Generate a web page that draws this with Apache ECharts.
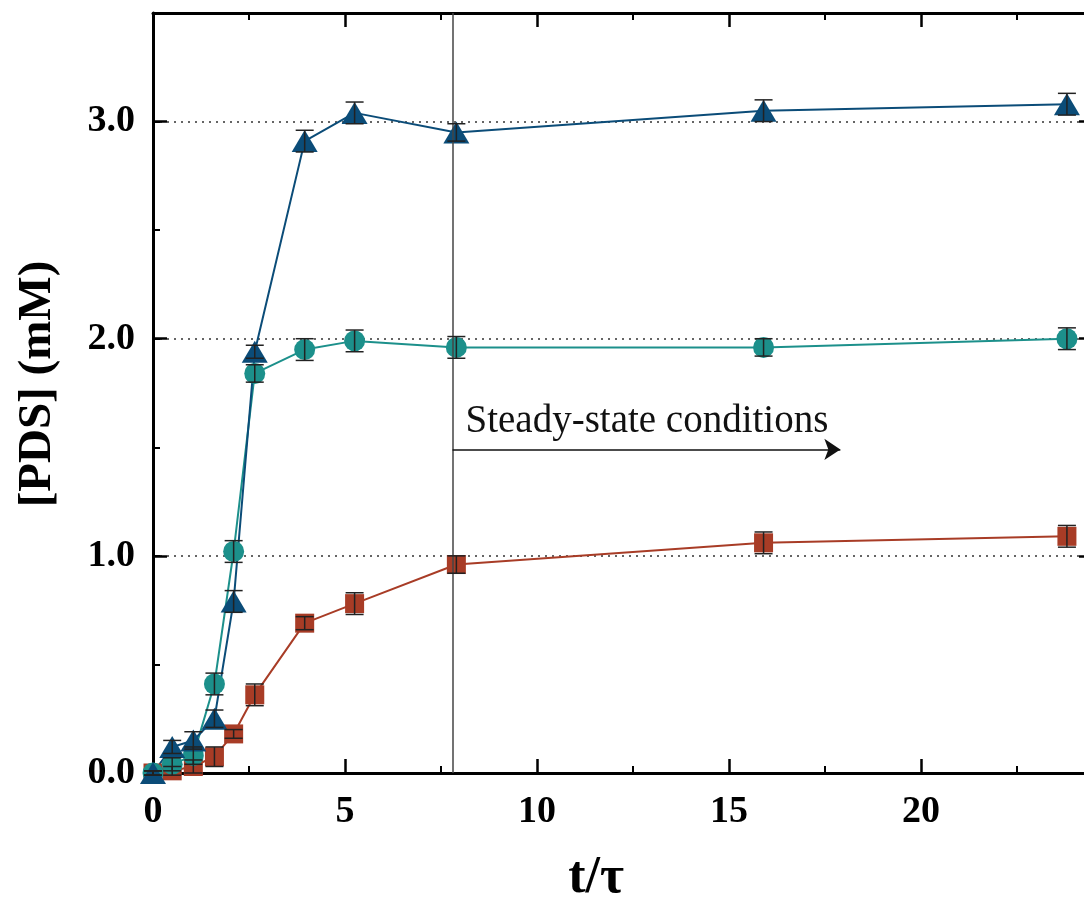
<!DOCTYPE html>
<html>
<head>
<meta charset="utf-8">
<script src="https://cdn.jsdelivr.net/npm/echarts@6/dist/echarts.min.js"></script>
<style>
  html, body { margin: 0; padding: 0; background: #fff; }
  #chart { width: 1084px; height: 902px; }
</style>
</head>
<body>
<div id="chart"></div>
<script>
// 数据
const tau = [0, 0.5, 1.05, 1.6, 2.1, 2.65, 3.95, 5.25, 7.9, 15.9, 23.8];

const triVals = [0, 0.12, 0.15, 0.25, 0.79, 1.94, 2.91, 3.04, 2.95, 3.05, 3.08];
const triErr  = [0.01, 0.03, 0.04, 0.04, 0.05, 0.03, 0.05, 0.05, 0.04, 0.05, 0.05];

const cirVals = [0, 0.04, 0.08, 0.41, 1.02, 1.84, 1.95, 1.99, 1.96, 1.96, 2.0];
const cirErr  = [0.01, 0.03, 0.04, 0.05, 0.05, 0.04, 0.05, 0.05, 0.05, 0.04, 0.05];

const sqVals = [0, 0.01, 0.03, 0.075, 0.18, 0.36, 0.69, 0.78, 0.96, 1.06, 1.09];
const sqErr  = [0.01, 0.02, 0.03, 0.045, 0.02, 0.05, 0.03, 0.05, 0.04, 0.05, 0.05];

const steadyX = 7.8;      // 稳态开始位置
const arrowY = 1.49;
const arrowEndX = 17.9;
const steadyText = 'Steady-state conditions';

const FONT = '"Liberation Serif", "Times New Roman", serif';
const C_TRI = '#0b4c78', C_CIR = '#1c908b', C_SQ = '#a83c26';

function pairs(vals){
    return tau.map((t, i) => [t, vals[i]]);
}
function errData(vals, errs){
    return tau.map((t, i) => [t, vals[i], errs[i]]);
}

// 误差棒
function errRender(params, api){
    let x = api.value(0), y = api.value(1), e = api.value(2);
    let top = api.coord([x, y + e]);
    let bot = api.coord([x, y - e]);
    let hw = 9;
    let style = {stroke: '#222', lineWidth: 1.5};
    return {
        type: 'group',
        children: [
            {type: 'line', shape: {x1: top[0], y1: top[1], x2: bot[0], y2: bot[1]}, style: style},
            {type: 'line', shape: {x1: top[0] - hw, y1: top[1], x2: top[0] + hw, y2: top[1]}, style: style},
            {type: 'line', shape: {x1: bot[0] - hw, y1: bot[1], x2: bot[0] + hw, y2: bot[1]}, style: style}
        ]
    };
}

function lineSeries(vals, color, symbol, size){
    return {
        type: 'line',
        data: pairs(vals),
        symbol: symbol,
        symbolSize: size,
        showAllSymbol: true,
        lineStyle: {color: color, width: 2},
        itemStyle: {color: color, opacity: 1},
        z: 3
    };
}

function errSeries(vals, errs){
    return {
        type: 'custom',
        data: errData(vals, errs),
        renderItem: errRender,
        encode: {x: 0, y: 1},
        z: 5,
        silent: true
    };
}

const tickLabel = {fontFamily: FONT, fontSize: 38, fontWeight: 'bold', color: '#000'};
const frameLine = {show: true, onZero: false, lineStyle: {color: '#000', width: 3}};

let sqLine = lineSeries(sqVals, C_SQ, 'rect', 19);
sqLine.markLine = {
    silent: true,
    symbol: ['none', 'none'],
    label: {show: false},
    lineStyle: {color: '#444', width: 1.5, type: 'solid'},
    data: [{xAxis: steadyX}]
};

let cirLine = lineSeries(cirVals, C_CIR, 'circle', 21);
cirLine.markLine = {
    silent: true,
    symbol: ['none', 'arrow'],
    symbolSize: 16,
    lineStyle: {color: '#111', width: 1.5, type: 'solid'},
    label: {
        show: true,
        position: 'insideStartTop',
        formatter: steadyText,
        fontFamily: FONT,
        fontSize: 39,
        color: '#111',
        distance: [13, 8]
    },
    data: [[{coord: [steadyX, arrowY]}, {coord: [arrowEndX, arrowY]}]]
};

let triLine = lineSeries(triVals, C_TRI, 'triangle', [26, 22]);

let option = {
    animation: false,
    backgroundColor: '#fff',
    // 右边框在画面外
    grid: {left: 153, top: 13, right: -29, bottom: 129, outerBoundsMode: 'none'},
    xAxis: [
        {
            type: 'value', position: 'bottom', min: 0, max: 25, interval: 5,
            axisLine: frameLine,
            axisTick: {inside: true, length: 14, lineStyle: {color: '#000', width: 2.5}},
            minorTick: {show: true, splitNumber: 2, length: 7, lineStyle: {color: '#000', width: 2}},
            axisLabel: Object.assign({margin: 20, showMaxLabel: false}, tickLabel),
            splitLine: {show: false},
            name: 't/τ',
            nameLocation: 'middle',
            nameGap: 80,
            nameTextStyle: {fontFamily: FONT, fontSize: 52, fontWeight: 'bold', color: '#000', padding: [0, 74, 0, 0]}
        },
        {
            type: 'value', position: 'top', min: 0, max: 25, interval: 5,
            axisLine: frameLine,
            axisTick: {inside: true, length: 14, lineStyle: {color: '#000', width: 2.5}},
            minorTick: {show: true, splitNumber: 2, length: 7, lineStyle: {color: '#000', width: 2}},
            axisLabel: {show: false},
            splitLine: {show: false}
        }
    ],
    yAxis: [
        {
            type: 'value', position: 'left', min: 0, max: 3.5, interval: 1,
            axisLine: frameLine,
            axisTick: {inside: true, length: 14, lineStyle: {color: '#000', width: 2.5}},
            axisLabel: Object.assign({margin: 18, showMaxLabel: false, formatter: v => v.toFixed(1)}, tickLabel),
            splitLine: {show: true, lineStyle: {color: '#333', width: 1.5, type: [2, 5]}},
            name: '[PDS] (mM)',
            nameLocation: 'middle',
            nameGap: 92,
            nameTextStyle: {fontFamily: FONT, fontSize: 47, fontWeight: 'bold', color: '#000', padding: [0, 0, 0, 18]}
        },
        {
            // 次刻度
            type: 'value', position: 'left', min: 0, max: 3.5, interval: 0.5,
            axisLine: {show: false},
            axisTick: {inside: true, length: 7, lineStyle: {color: '#000', width: 2}},
            axisLabel: {show: false},
            splitLine: {show: false}
        },
        {
            type: 'value', position: 'right', offset: -20, min: 0, max: 3.5, interval: 1,
            axisLine: frameLine,
            axisTick: {inside: true, length: 14, lineStyle: {color: '#000', width: 2.5}},
            axisLabel: {show: false},
            splitLine: {show: false}
        }
    ],
    series: [
        sqLine,
        cirLine,
        triLine,
        errSeries(sqVals, sqErr),
        errSeries(cirVals, cirErr),
        errSeries(triVals, triErr)
    ]
};

let chart = echarts.init(document.getElementById('chart'), null, {renderer: 'canvas'});
chart.setOption(option);
</script>
</body>
</html>
